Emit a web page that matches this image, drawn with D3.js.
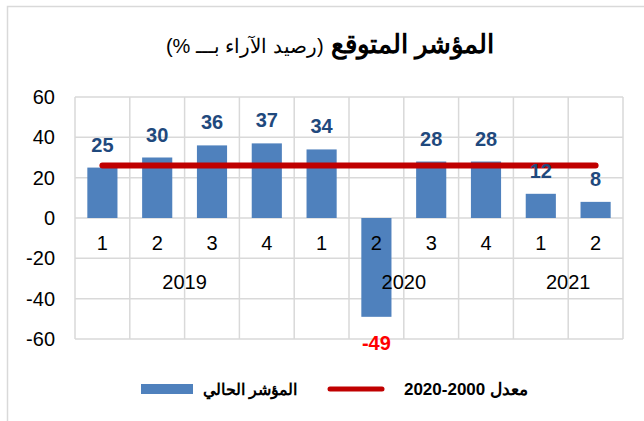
<!DOCTYPE html>
<html>
<head>
<meta charset="utf-8">
<script src="https://cdn.jsdelivr.net/npm/d3@7"></script>
<style>
  body { margin: 0; background: #fff; }
  svg { font-family: "Liberation Sans", Arial, sans-serif; }
</style>
</head>
<body>
<div id="chart"></div>
<script>
// quarters and years
const quarters = ["1", "2", "3", "4", "1", "2", "3", "4", "1", "2"];
const years = ["2019", "2019", "2019", "2019", "2020", "2020", "2020", "2020", "2021", "2021"];
const currentIndex = [25, 30, 36, 37, 34, -49, 28, 28, 12, 8];
const averageValue = 26;
const yTicks = [-60, -40, -20, 0, 20, 40, 60];

const W = 644, H = 421;
const margin = { top: 97, right: 21, bottom: 82, left: 75 };
const width = W - margin.left - margin.right;
const height = H - margin.top - margin.bottom;

const svg = d3.select("#chart").append("svg")
  .attr("width", W)
  .attr("height", H);

// outer frame (only top and left visible)
svg.append("path")
  .attr("d", `M7.5,${H} L7.5,6.5 L${W},6.5`)
  .attr("fill", "none")
  .attr("stroke", "#d9d9d9")
  .attr("stroke-width", 1.5);

// title
const title = svg.append("text")
  .attr("x", 330)
  .attr("y", 53)
  .attr("text-anchor", "middle")
  .attr("direction", "rtl")
  .attr("fill", "#000");
title.append("tspan")
  .attr("font-size", "26px")
  .attr("font-weight", "bold")
  .text("المؤشر المتوقع ");
title.append("tspan")
  .attr("font-size", "20px")
  .text("(رصيد الآراء بـــ %)");

const g = svg.append("g")
  .attr("transform", `translate(${margin.left},${margin.top})`);

const x = d3.scaleBand()
  .domain(d3.range(quarters.length))
  .range([0, width])
  .paddingInner(0.45)
  .paddingOuter(0.225);

const xCell = d3.scaleBand()
  .domain(d3.range(quarters.length))
  .range([0, width]);

const y = d3.scaleLinear()
  .domain([-60, 60])
  .range([height, 0]);

// horizontal gridlines
g.append("g")
  .selectAll("line")
  .data(yTicks)
  .join("line")
  .attr("x1", 0)
  .attr("x2", width)
  .attr("y1", d => y(d))
  .attr("y2", d => y(d))
  .attr("stroke", "#d9d9d9")
  .attr("stroke-width", 1.5);

// vertical gridlines
g.append("g")
  .selectAll("line")
  .data(d3.range(quarters.length + 1))
  .join("line")
  .attr("x1", d => d < quarters.length ? xCell(d) : width)
  .attr("x2", d => d < quarters.length ? xCell(d) : width)
  .attr("y1", 0)
  .attr("y2", height)
  .attr("stroke", "#d9d9d9")
  .attr("stroke-width", 1.5);

// y axis labels
const yAxis = g.append("g")
  .call(d3.axisLeft(y).tickValues(yTicks).tickSize(0).tickPadding(20).tickFormat(d => String(d)));
yAxis.select(".domain").remove();
yAxis.selectAll("text")
  .attr("font-size", "20px")
  .attr("font-family", "Liberation Sans, Arial, sans-serif")
  .attr("fill", "#000");

// bars
g.append("g")
  .selectAll("rect")
  .data(currentIndex)
  .join("rect")
  .attr("x", (d, i) => x(i))
  .attr("width", x.bandwidth())
  .attr("y", d => y(Math.max(0, d)))
  .attr("height", d => Math.abs(y(d) - y(0)))
  .attr("fill", "#4f81bd");

// quarter labels
g.append("g")
  .selectAll("text")
  .data(quarters)
  .join("text")
  .attr("x", (d, i) => xCell(i) + xCell.bandwidth() / 2)
  .attr("y", y(-12.5))
  .attr("dy", "0.35em")
  .attr("text-anchor", "middle")
  .attr("font-size", "20px")
  .attr("fill", "#000")
  .text(d => d);

// year labels centered on their group
const yearGroups = d3.groups(d3.range(years.length), i => years[i]);
g.append("g")
  .selectAll("text")
  .data(yearGroups)
  .join("text")
  .attr("x", ([yr, idx]) => (xCell(idx[0]) + xCell(idx[idx.length - 1]) + xCell.bandwidth()) / 2)
  .attr("y", y(-31.5))
  .attr("dy", "0.35em")
  .attr("text-anchor", "middle")
  .attr("font-size", "20px")
  .attr("fill", "#000")
  .text(([yr]) => yr);

// average line
g.append("line")
  .attr("x1", xCell(0) + xCell.bandwidth() / 2)
  .attr("x2", xCell(quarters.length - 1) + xCell.bandwidth() / 2)
  .attr("y1", y(averageValue))
  .attr("y2", y(averageValue))
  .attr("stroke", "#c00000")
  .attr("stroke-width", 6)
  .attr("stroke-linecap", "round");

// value labels
g.append("g")
  .selectAll("text")
  .data(currentIndex)
  .join("text")
  .attr("x", (d, i) => x(i) + x.bandwidth() / 2)
  .attr("y", d => d >= 0 ? y(d) - 23 : y(d) + 26)
  .attr("dy", "0.35em")
  .attr("text-anchor", "middle")
  .attr("font-size", "20px")
  .attr("font-weight", "bold")
  .attr("fill", d => d >= 0 ? "#1f497d" : "#ff0000")
  .text(d => d);

// legend
const legend = svg.append("g");
legend.append("rect")
  .attr("x", 141)
  .attr("y", 384)
  .attr("width", 52)
  .attr("height", 10)
  .attr("fill", "#4f81bd");
legend.append("text")
  .attr("x", 297)
  .attr("y", 389)
  .attr("dy", "0.35em")
  .attr("text-anchor", "start")
  .attr("direction", "rtl")
  .attr("font-size", "16px")
  .attr("font-weight", "bold")
  .text("المؤشر الحالي");
legend.append("line")
  .attr("x1", 330)
  .attr("x2", 382)
  .attr("y1", 389)
  .attr("y2", 389)
  .attr("stroke", "#c00000")
  .attr("stroke-width", 5)
  .attr("stroke-linecap", "round");
legend.append("text")
  .attr("x", 528)
  .attr("y", 389)
  .attr("dy", "0.35em")
  .attr("text-anchor", "start")
  .attr("direction", "rtl")
  .attr("font-size", "17px")
  .attr("font-weight", "bold")
  .text("معدل 2000-2020");
</script>
</body>
</html>
